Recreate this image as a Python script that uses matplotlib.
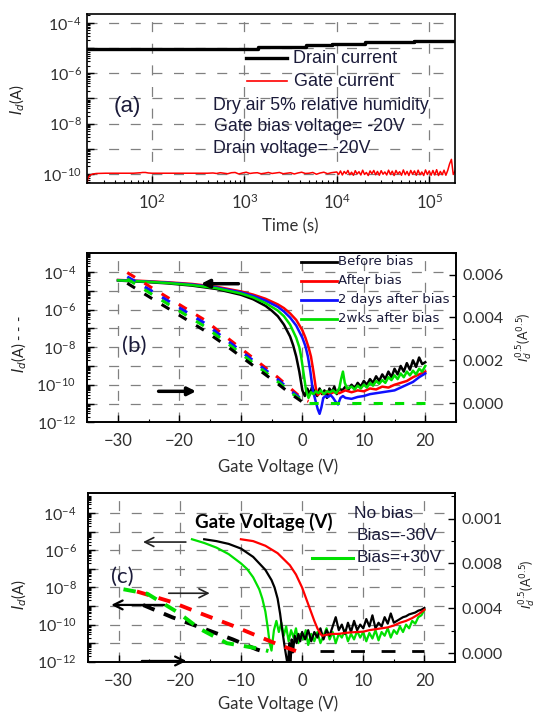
import numpy as np
import matplotlib
matplotlib.use("Agg")
import matplotlib.pyplot as plt
from matplotlib.lines import Line2D
from matplotlib.ticker import FixedLocator, FixedFormatter, LogLocator, MultipleLocator, NullFormatter

plt.rcParams['font.family'] = ['Lato', 'DejaVu Sans']

# ---------------- panel (a) data ----------------
drain_t = [20, 1400, 4600, 8900, 20000, 68000, 190000]
drain_logI = [-5.02, -4.95, -4.90, -4.83, -4.78, -4.71, -4.71]

gate_logt = [1.30, 1.31, 1.33, 1.36, 1.40, 1.50, 1.65, 1.80, 1.88, 1.90,
             1.93, 1.96, 2.00, 2.20, 2.40, 2.60, 2.66, 2.70, 2.74, 2.78,
             2.82, 2.86, 2.90, 2.94, 2.98, 3.02, 3.06, 3.10, 3.14, 3.18,
             3.22, 3.26, 3.30, 3.34, 3.38, 3.42, 3.46, 3.50, 3.54, 3.58,
             3.62, 3.66, 3.70, 3.74, 3.78, 3.82, 3.86, 3.90, 3.94, 3.98,
             4.00, 4.02, 4.04, 4.06, 4.08, 4.10, 4.12, 4.14, 4.16, 4.18,
             4.20, 4.22, 4.24, 4.26, 4.28, 4.30, 4.32, 4.34, 4.36, 4.38,
             4.40, 4.42, 4.44, 4.46, 4.48, 4.50, 4.52, 4.54, 4.56, 4.58,
             4.60, 4.62, 4.64, 4.66, 4.68, 4.70, 4.72, 4.74, 4.76, 4.78,
             4.80, 4.82, 4.84, 4.86, 4.88, 4.90, 4.92, 4.94, 4.96, 4.98,
             5.00, 5.02, 5.04, 5.06, 5.08, 5.10, 5.12, 5.14, 5.16, 5.18,
             5.20, 5.22, 5.24, 5.26, 5.28]
gate_logI = [-10.32, -10.15, -10.05, -10.0, -9.98, -9.97, -9.97, -9.97, -9.95, -9.94,
             -9.94, -9.96, -9.97, -9.97, -9.97, -9.97, -9.96, -9.98, -9.95, -9.97,
             -9.99, -9.95, -9.94, -10.0, -9.96, -9.93, -9.98, -9.96, -9.95, -9.99,
             -9.97, -9.94, -9.98, -9.96, -9.94, -9.99, -9.97, -9.95, -10.0, -9.96,
             -9.93, -9.98, -9.97, -9.94, -10.01, -9.96, -9.93, -9.99, -9.95, -9.93,
             -9.92, -10.02, -9.88, -10.04, -9.90, -9.99, -9.86, -10.03, -9.93, -10.05,
             -9.87, -10.00, -9.91, -10.04, -9.85, -10.02, -9.94, -10.06, -9.88, -9.99,
             -9.86, -10.03, -9.90, -10.05, -9.87, -10.01, -9.92, -10.04, -9.85, -10.02,
             -9.89, -10.06, -9.86, -10.00, -9.91, -10.05, -9.84, -10.03, -9.90, -10.06,
             -9.86, -10.01, -9.88, -10.05, -9.85, -10.03, -9.92, -10.06, -9.84, -10.02,
             -9.88, -10.05, -9.86, -10.04, -9.83, -10.06, -9.90, -10.03, -9.85, -10.05,
             -9.86, -9.60, -9.42, -10.02, -9.88]

# ---------------- panel (b) data ----------------
b_black_V = [-30, -26, -22, -18, -14, -10, -8, -6, -5, -4, -3, -2, -1.5, -1, -0.5, 0, 0.4,
             0.8, 1.2, 1.6, 2.0, 2.4, 2.8, 3.2, 3.6, 4.0, 4.4, 4.8, 5.2, 5.6, 6.0,
             6.5, 7.0, 7.5, 8.0, 8.5, 9.0, 9.5, 10.0, 10.5, 11.0, 11.5, 12.0, 12.5, 13.0,
             13.5, 14.0, 14.5, 15.0, 15.5, 16.0, 16.5, 17.0, 17.5, 18.0, 18.5, 19.0, 19.5, 20.0]
b_black_logI = [-4.45, -4.52, -4.60, -4.72, -4.90, -5.21, -5.45, -5.80, -6.05, -6.35, -6.80, -7.43,
                -7.90, -8.50, -9.30, -10.30, -10.60,
                -10.2, -10.5, -10.1, -10.4, -10.6, -10.2, -10.5, -10.3, -10.7, -10.2, -10.4, -10.1,
                -10.5, -10.2,
                -10.3, -10.1, -10.25, -10.0, -10.2, -9.9, -10.1, -9.8, -10.0, -9.7, -9.9, -9.55,
                -9.8, -9.45, -9.7, -9.3, -9.6, -9.15, -9.45, -9.0, -9.3, -8.85, -9.2, -8.7, -9.05,
                -8.55, -8.9, -8.8]
b_red_V = [-30, -26, -22, -18, -14, -10, -8, -6, -4, -3, -2, -1, 0, 0.5, 1.0, 1.4, 1.8, 2.2, 2.5,
           3.0, 3.5, 4.0, 4.5, 5.0, 6.0, 7.0, 8.0, 9.0, 10.0, 11.0, 12.0, 13.0, 14.0, 15.0,
           16.0, 17.0, 18.0, 19.0, 20.0]
b_red_logI = [-4.42, -4.47, -4.54, -4.63, -4.78, -5.03, -5.20, -5.42, -5.72, -5.92, -6.20, -6.55,
              -7.10, -7.50, -8.00, -8.50, -9.30, -10.20, -10.55,
              -10.4, -10.5, -10.35, -10.5, -10.4, -10.45, -10.3, -10.4, -10.3, -10.35, -10.2,
              -10.25, -10.1, -10.15, -10.0, -9.9, -9.8, -9.6, -9.45, -9.3]
b_blue_V = [-30, -26, -22, -18, -14, -10, -8, -6, -4, -3, -2, -1, 0, 0.5, 0.9, 1.3, 1.7, 2.1, 2.5,
            2.8, 3.1, 3.4, 3.8, 4.2, 4.6, 5.0, 5.4, 5.8, 6.2, 6.6, 7.0, 8.0, 9.0, 10.0, 11.0,
            12.0, 13.0, 14.0, 15.0, 16.0, 17.0, 18.0, 19.0, 20.0]
b_blue_logI = [-4.43, -4.49, -4.56, -4.66, -4.82, -5.08, -5.27, -5.52, -5.85, -6.10, -6.42, -6.85,
               -7.50, -7.95, -8.50, -9.30, -10.30, -10.80, -11.30, -11.55, -11.20,
               -10.7, -10.6, -10.65, -10.55, -10.7, -10.9, -11.05, -10.7, -10.6, -10.7,
               -10.75, -10.65, -10.6, -10.5, -10.45, -10.4, -10.35, -10.3, -10.15, -10.0,
               -9.85, -9.6, -9.4]
b_green_V = [-30, -26, -22, -18, -14, -10, -8, -6, -4, -3, -2, -1, -0.5, -0.2, 0.2, 0.6, 1.0,
             1.4, 1.8, 2.2, 2.6, 3.0, 3.5, 4.0, 4.5, 5.0, 5.5, 6.0, 6.3, 6.6, 6.9, 7.3,
             8.0, 8.5, 9.0, 9.5, 10.0, 10.5, 11.0, 11.5, 12.0, 12.5, 13.0, 13.5, 14.0, 14.5,
             15.0, 15.5, 16.0, 16.5, 17.0, 17.5, 18.0, 18.5, 19.0, 19.5, 20.0]
b_green_logI = [-4.44, -4.50, -4.58, -4.69, -4.86, -5.14, -5.35, -5.65, -6.05, -6.35, -6.80, -7.50,
                -8.00, -8.50, -9.40, -10.30, -10.70,
                -10.4, -10.5, -10.35, -10.45, -10.3, -10.5, -10.35, -10.4, -10.3, -10.45, -10.2,
                -9.7, -9.3, -9.9, -10.2,
                -10.1, -10.25, -10.05, -10.2, -10.0, -10.15, -9.9, -10.05, -9.8, -9.95, -9.75,
                -9.9, -9.6, -9.75, -9.5, -9.7, -9.4, -9.6, -9.3, -9.5, -9.25, -9.45, -9.15,
                -9.3, -9.0]
# sqrt(Id) dashed curves, right axis
bd_V = [-28.5, -24, -20, -16, -12, -8, -4, -2, 0, 1]
bd_red = [0.0061, 0.0053, 0.0046, 0.0039, 0.0030, 0.0021, 0.0012, 0.0007, 0.0002, 0.00008]
bd_blue = [0.0059, 0.00515, 0.00445, 0.00375, 0.00287, 0.00198, 0.0011, 0.0006, 0.00015, 0.00005]
bd_green = [0.0058, 0.0050, 0.0043, 0.0036, 0.00275, 0.00187, 0.0010, 0.00052, 0.0001, 0.00003]
bd_black = [0.0056, 0.0048, 0.0041, 0.0034, 0.0026, 0.00175, 0.0009, 0.00045, 0.00005, 0.0]
bd_green_flat_V = [1, 20]
bd_green_flat = [0.0, 0.0]
b_labels = ["Before bias", "After bias", "2 days after bias", "2wks after bias"]

# ---------------- panel (c) data ----------------
c_green_V = [-18, -16, -14, -12, -10, -9, -8, -7, -6.5, -6, -5.6, -5.3, -5.0,
             -4.6, -4.2, -3.8, -3.4, -3.0, -2.6, -2.2, -1.8, -1.4, -1.0, -0.6, -0.2,
             0.2, 0.6, 1.0,
             1.5, 2.0, 2.5, 3.0, 3.5, 4.0, 4.5, 5.0, 5.5, 6.0, 6.5, 7.0, 7.5, 8.0, 8.5, 9.0,
             9.5, 10.0, 10.5, 11.0, 11.5, 12.0, 12.5, 13.0, 13.5, 14.0, 14.5, 15.0, 15.5, 16.0,
             16.5, 17.0, 17.5, 18.0, 18.5, 19.0, 19.5, 20.0]
c_green_logI = [-5.40, -5.60, -5.85, -6.20, -6.70, -7.00, -7.45, -8.10, -8.60, -9.30, -10.20, -11.00, -11.40,
                -10.3, -9.8, -10.4, -9.9, -10.6, -10.1, -10.9, -10.3, -10.7, -10.2, -11.0, -10.5,
                -10.8, -10.3, -11.1,
                -10.5, -10.9, -10.4, -11.0, -10.6, -10.2, -10.8, -10.4, -11.0, -10.5, -10.7, -10.3,
                -10.9, -10.5, -10.8, -10.35, -10.7, -10.4, -10.9, -10.45, -10.75, -10.3, -10.85,
                -10.4, -10.6, -10.2, -10.7, -10.3, -10.5, -10.1, -10.4, -10.0, -10.2, -9.8, -9.95,
                -9.6, -9.5, -9.2]
c_black_V = [-16, -14, -12, -10, -8, -6, -5, -4.5, -4, -3.6, -3.2, -2.8, -2.5, -2.3,
             -2.1, -1.9, -1.7, -1.5, -1.2, -0.9, -0.6, -0.3, 0.0,
             0.5, 1.0, 1.5, 2.0, 2.5, 3.0, 3.5, 4.0, 4.5, 5.0, 5.5, 6.0, 6.5, 7.0, 7.5, 8.0,
             8.5, 9.0, 9.5, 10.0, 10.5, 11.0, 11.5, 12.0, 12.5, 13.0, 13.5, 14.0, 14.5, 15.0,
             15.5, 16.0, 16.5, 17.0, 17.5, 18.0, 18.5, 19.0, 19.5, 20.0]
c_black_logI = [-5.40, -5.50, -5.65, -5.90, -6.35, -7.05, -7.60, -8.00, -8.60, -9.40, -10.40, -11.30,
                -11.90, -12.20,
                -11.0, -12.2, -10.8, -11.5, -10.6, -11.0, -10.5, -10.9, -10.4,
                -10.8, -10.3, -10.9, -10.4, -10.7, -10.2, -10.8, -10.3, -10.6, -10.1,
                -9.6, -10.3, -10.0, -10.5, -9.9, -10.4, -9.8, -10.3, -10.0, -10.2,
                -9.7, -10.1, -9.5, -10.2, -9.9, -10.1, -9.6, -9.95, -9.4, -9.9,
                -9.8, -9.7, -9.6, -9.55, -9.45, -9.4, -9.35, -9.25, -9.2, -9.1]
c_red_V = [-10, -8, -6, -4, -2, -1, 0, 1, 2, 2.5, 3.0, 3.3, 4, 5, 6, 7, 8, 9, 10, 11, 12, 13,
           14, 15, 16, 17, 18, 19, 20]
c_red_logI = [-5.40, -5.50, -5.75, -6.15, -6.80, -7.30, -8.00, -8.90, -9.80, -10.20, -10.50, -10.60,
              -10.55, -10.5, -10.5, -10.45, -10.42, -10.4, -10.38, -10.3, -10.25, -10.2, -10.15,
              -10.05, -9.9, -9.8, -9.65, -9.45, -9.2]
cd_red_V = [-27, -21.5, -16.5, -11.4, -6.4, -4, -2.5, -1]
cd_red = [0.0055, 0.0046, 0.00353, 0.00247, 0.00134, 0.0008, 0.0005, 0.0002]
cd_black_V = [-26, -21.2, -16.6, -11.4, -7.4, -6]
cd_black = [0.0043, 0.0032, 0.0023, 0.00125, 0.00034, 0.0001]
cd_black2_V = [3, 20]
cd_black2 = [0.0002, 0.0002]
cd_green_V = [-29.2, -25.3, -20.2, -16.8, -12.3, -7.3, -5.5]
cd_green = [0.0057, 0.0053, 0.0036, 0.0022, 0.0009, 0.00044, 0.0002]
c_labels = ["No bias", "Bias=-30V", "Bias=+30V"]

# ---------------- figure ----------------
W, H = 539, 713
fig = plt.figure(figsize=(W / 100, H / 100), dpi=100)


def box(l, t, r, b):
    return [l / W, 1 - b / H, (r - l) / W, (b - t) / H]


def ptext(x, y, s, **kw):
    return fig.text(x / W, 1 - y / H, s, **kw)


def pline(x0, x1, y, **kw):
    fig.add_artist(Line2D([x0 / W, x1 / W], [1 - y / H, 1 - y / H], transform=fig.transFigure, **kw))


axA = fig.add_axes(box(87.3, 14, 455, 183.3))
axB = fig.add_axes(box(87.3, 253.3, 456, 422.3))
axC = fig.add_axes(box(88, 492.7, 455, 661.7))
axB2 = axB.twinx()
axC2 = axC.twinx()

GRID = dict(linestyle=(0, (8, 9.3)), color='#808080', lw=0.9)
TXT = '#1b1b3a'
TICKC = '#303030'
RED, BLUE, GREEN = '#ff0000', '#1010ff', '#00e000'


def sup(e):
    return r'$\mathregular{10^{%d}}$' % e


for ax in (axA, axB, axC, axB2, axC2):
    for s in ax.spines.values():
        s.set_linewidth(1.2)
        s.set_color('black')
for ax in (axA, axB, axC):
    ax.set_yscale('log')
    ax.set_axisbelow(True)
    ax.tick_params(which='both', direction='in', top=False, right=False, labelcolor=TICKC)
    ax.tick_params(which='major', length=5, width=1)
    ax.tick_params(which='minor', length=2.5, width=0.8)
    ax.tick_params(axis='x', labelsize=12)
    ax.tick_params(axis='y', labelsize=11.5)

# ---- (a) ----
axA.set_xscale('log')
axA.step(drain_t, 10 ** np.array(drain_logI), where='post', color='black', lw=2.4)
axA.plot(10 ** np.array(gate_logt), 10 ** np.array(gate_logI), color=RED, lw=1.1)
axA.set_xlim(20, 1.9e5)
axA.set_ylim(10 ** -10.37, 10 ** -3.65)
axA.xaxis.set_major_locator(FixedLocator([1e2, 1e3, 1e4, 1e5]))
axA.xaxis.set_major_formatter(FixedFormatter([sup(2), sup(3), sup(4), sup(5)]))
axA.xaxis.set_minor_locator(LogLocator(base=10, subs=np.arange(2, 10), numticks=20))
axA.xaxis.set_minor_formatter(NullFormatter())
decA = [-10, -9, -8, -7, -6, -5, -4]
axA.yaxis.set_major_locator(FixedLocator([10.0 ** e for e in decA]))
axA.yaxis.set_major_formatter(FixedFormatter([sup(e) if e % 2 == 0 else '' for e in decA]))
axA.yaxis.set_minor_locator(LogLocator(base=10, subs=np.arange(2, 10), numticks=20))
axA.yaxis.set_minor_formatter(NullFormatter())
axA.tick_params(axis='y', pad=4)
axA.tick_params(axis='x', pad=7)
axA.grid(True, which='major', **GRID)

pline(245.7, 286.9, 58.3, color='black', lw=2.4)
pline(247.4, 286.9, 81, color=RED, lw=1.2)
FA = dict(family=['Liberation Sans', 'DejaVu Sans'], color=TXT, va='center')
ptext(292.8, 58.3, "Drain current", fontsize=13, **FA)
ptext(293.8, 81, "Gate current", fontsize=13, **FA)
ptext(127, 106.7, "(a)", fontsize=16, ha='center', **FA)
ptext(213, 105.3, "Dry air 5% relative humidity", fontsize=12.8, **FA)
ptext(213.7, 126.7, "Gate bias voltage= -20V", fontsize=12.8, **FA)
ptext(213, 148.3, "Drain voltage= -20V", fontsize=12.8, **FA)
ptext(290.4, 226.7, "Time (s)", fontsize=12, color=TICKC, ha='center', va='center')
ptext(17, 100, r"$I_d$(A)", fontsize=10.5, color='#222222', rotation=90, ha='center', va='center')

# ---- (b) ----
for V, L, c in ((b_black_V, b_black_logI, 'black'), (b_red_V, b_red_logI, RED),
                (b_blue_V, b_blue_logI, BLUE), (b_green_V, b_green_logI, GREEN)):
    axB.plot(V, 10 ** np.array(L), color=c, lw=1.8)
DASH_B = (0, (3.0, 3.6))
for vals, c in ((bd_red, RED), (bd_blue, BLUE), (bd_green, GREEN), (bd_black, 'black')):
    axB2.plot(bd_V, vals, color=c, lw=2.2, linestyle=DASH_B)
axB2.plot(bd_green_flat_V, bd_green_flat, color=GREEN, lw=2.2, linestyle=(0, (3.0, 4.0)))

decBC = [-12, -11, -10, -9, -8, -7, -6, -5, -4]
for ax in (axB, axC):
    ax.set_xlim(-35, 25)
    ax.xaxis.set_major_locator(MultipleLocator(10))
    ax.xaxis.set_minor_locator(MultipleLocator(5))
    ax.yaxis.set_major_locator(FixedLocator([10.0 ** e for e in decBC]))
    ax.yaxis.set_major_formatter(FixedFormatter([sup(e) if e % 2 == 0 else '' for e in decBC]))
    ax.yaxis.set_minor_locator(LogLocator(base=10, subs=np.arange(2, 10), numticks=20))
    ax.yaxis.set_minor_formatter(NullFormatter())
    ax.tick_params(axis='y', pad=8)
    ax.tick_params(axis='x', pad=8)
    ax.grid(True, which='major', **GRID)
axB.set_ylim(1e-12, 1e-3)
axC.set_ylim(1e-12, 10 ** -2.89)

for ax in (axB2, axC2):
    ax.tick_params(which='both', direction='in', labelsize=11.5, labelcolor=TICKC, pad=5)
    ax.tick_params(which='major', length=5, width=1)
    ax.tick_params(which='minor', length=3, width=0.8)
axB2.set_ylim(-0.0009, 0.007)
axB2.yaxis.set_major_locator(FixedLocator([0.0, 0.002, 0.004, 0.006]))
axB2.yaxis.set_major_formatter(FixedFormatter(['0.000', '0.002', '0.004', '0.006']))
axB2.yaxis.set_minor_locator(MultipleLocator(0.001))

# arrows (b)
ARB = dict(arrowstyle='-|>', color='black', lw=2.5, mutation_scale=12, shrinkA=0, shrinkB=0)
axB.annotate('', xy=(-16.5, 10 ** -4.62), xytext=(-10.4, 10 ** -4.62), arrowprops=ARB)
axB.annotate('', xy=(-17.3, 10 ** -10.35), xytext=(-23.4, 10 ** -10.35), arrowprops=ARB)

FB = dict(family=['DejaVu Sans'], color=TXT, va='center', fontsize=9.5)
for y, lab, c in zip([261.7, 280.7, 300, 319], b_labels, ['black', RED, BLUE, GREEN]):
    pline(300.7, 336.7, y, color=c, lw=2.0)
    ptext(338.3, y, lab, **FB)
ptext(134, 346, "(b)", fontsize=16, color=TXT, ha='center', va='center')
ptext(278.4, 466.7, "Gate Voltage (V)", fontsize=12, color=TICKC, ha='center', va='center')
ptext(19, 344, r"$I_d$(A) - - -", fontsize=10.5, color='#222222', rotation=90, ha='center', va='center')
ptext(525, 337, r"$I_d^{0.5}$(A$^{0.5}$)", fontsize=9, color='#222222', rotation=90, ha='center', va='center')

# ---- (c) ----
for V, L, c in ((c_green_V, c_green_logI, GREEN), (c_black_V, c_black_logI, 'black'),
                (c_red_V, c_red_logI, RED)):
    axC.plot(V, 10 ** np.array(L), color=c, lw=1.6)
DASH_C = (0, (3.2, 2.6))
axC2.plot(cd_red_V, cd_red, color=RED, lw=2.8, linestyle=DASH_C)
axC2.plot(cd_black_V, cd_black, color='black', lw=2.8, linestyle=DASH_C)
axC2.plot(cd_black2_V, cd_black2, color='black', lw=2.0, linestyle=(0, (5, 6)))
axC2.plot(cd_green_V, cd_green, color=GREEN, lw=2.8, linestyle=DASH_C)
axC2.set_ylim(-0.00075, 0.0143)
axC2.yaxis.set_major_locator(FixedLocator([0.0, 0.004, 0.008, 0.012]))
axC2.yaxis.set_major_formatter(FixedFormatter(['0.000', '0.004', '0.008', '0.001']))
axC2.yaxis.set_minor_locator(MultipleLocator(0.002))

ARC = dict(arrowstyle='->', color='#222222', lw=1.2, mutation_scale=16, shrinkA=0, shrinkB=0)
axC.annotate('', xy=(-26.0, 10 ** -5.55), xytext=(-19.0, 10 ** -5.55), arrowprops=ARC)
axC.annotate('', xy=(-15.1, 10 ** -8.31), xytext=(-21.8, 10 ** -8.31), arrowprops=ARC)
axC.annotate('', xy=(-31.2, 10 ** -8.94), xytext=(-22.5, 10 ** -8.94),
             arrowprops=dict(ARC, lw=1.6, color='black'))
axC.annotate('', xy=(-18.9, 10 ** -11.96), xytext=(-26.2, 10 ** -11.96),
             arrowprops=dict(ARC, lw=1.6, color='black'), annotation_clip=False)

FC = dict(family=['Liberation Sans', 'DejaVu Sans'], color=TXT, va='center', fontsize=12.5)
ptext(354, 514, c_labels[0], **FC)
ptext(357, 535, c_labels[1], **FC)
ptext(357, 558, c_labels[2], **FC)
pline(311.7, 353.3, 558, color=GREEN, lw=2.2)
ptext(263.7, 521.7, "Gate Voltage (V)", fontsize=13.5, fontweight='bold', color='black',
      ha='center', va='center')
ptext(122.7, 576.7, "(c)", fontsize=16, color=TXT, ha='center', va='center')
ptext(278.4, 704, "Gate Voltage (V)", fontsize=12, color=TICKC, ha='center', va='center')
ptext(19, 595, r"$I_d$(A)", fontsize=10.5, color='#222222', rotation=90, ha='center', va='center')
ptext(528, 584, r"$I_d^{0.5}$(A$^{0.5}$)", fontsize=9, color='#222222', rotation=90, ha='center', va='center')

fig.savefig("out.png", dpi=100)
